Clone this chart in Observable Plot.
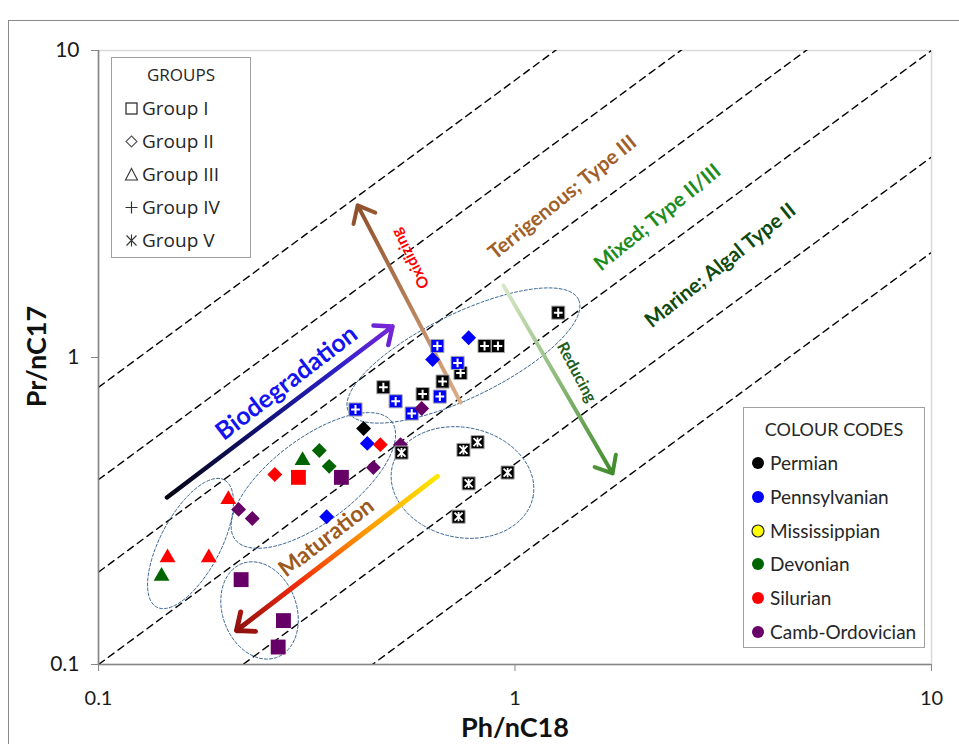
<!DOCTYPE html>
<html>
<head>
<meta charset="utf-8">
<script src="https://cdn.jsdelivr.net/npm/d3@7"></script>
<script src="https://cdn.jsdelivr.net/npm/@observablehq/plot@0.6"></script>
<style>
html,body{margin:0;padding:0;background:#fff;}
#wrap{position:relative;width:959px;height:744px;overflow:hidden;background:#fff;}
#wrap > svg{position:absolute;left:0;top:0;}
.outer{position:absolute;left:8px;top:20px;width:1200px;height:1000px;border-top:1.5px solid #8a8a8a;border-left:1.5px solid #8a8a8a;box-sizing:border-box;}
.axt{position:absolute;font-family:Lato,"Liberation Sans",sans-serif;font-weight:700;font-size:27px;color:#111;white-space:nowrap;line-height:1;}
.box{position:absolute;background:#fff;border:1.5px solid #a0a0a0;box-sizing:border-box;}
.row{position:absolute;left:0;height:26px;line-height:26px;display:flex;align-items:center;white-space:nowrap;color:#262626;}
.ttl{position:absolute;left:0;right:0;text-align:center;height:24px;line-height:24px;color:#262626;}
</style>
</head>
<body>
<div id="wrap"><div class="outer"></div></div>
<script>
// ---------------- data ----------------
const xTicks = [0.1, 1, 10];
const yTicks = [0.1, 1, 10];
const tickLabels = ["0.1", "1", "10"];

const groups = ["Group I", "Group II", "Group III", "Group IV", "Group V"];
const periods = ["Permian", "Pennsylvanian", "Mississippian", "Devonian", "Silurian", "Camb-Ordovician"];
const periodColors = ["#000000", "#0000FF", "#FFFF00", "#006400", "#FF0000", "#660066"];

const sampleGroup = [
  "Group I","Group I","Group I","Group I","Group I",
  "Group III","Group III","Group III","Group III","Group III",
  "Group IV","Group IV","Group IV","Group IV","Group IV","Group IV","Group IV",
  "Group IV","Group IV","Group IV","Group IV","Group IV","Group IV",
  "Group II","Group II","Group II","Group II","Group II","Group II","Group II",
  "Group II","Group II","Group II","Group II","Group II","Group II","Group II",
  "Group V","Group V","Group V","Group V","Group V","Group V"
];
const samplePeriod = [
  "Silurian","Camb-Ordovician","Camb-Ordovician","Camb-Ordovician","Camb-Ordovician",
  "Silurian","Silurian","Silurian","Devonian","Devonian",
  "Permian","Permian","Permian","Permian","Permian","Permian","Permian",
  "Pennsylvanian","Pennsylvanian","Pennsylvanian","Pennsylvanian","Pennsylvanian","Pennsylvanian",
  "Pennsylvanian","Pennsylvanian","Pennsylvanian","Pennsylvanian","Permian","Silurian","Silurian",
  "Devonian","Devonian","Camb-Ordovician","Camb-Ordovician","Camb-Ordovician","Camb-Ordovician","Camb-Ordovician",
  "Permian","Permian","Permian","Permian","Permian","Permian"
];
const phnC18 = [
  0.302, 0.383, 0.220, 0.278, 0.270,
  0.205, 0.1465, 0.184, 0.1417, 0.309,
  1.27, 0.845, 0.91, 0.74, 0.67, 0.60, 0.483,
  0.651, 0.728, 0.66, 0.565, 0.517, 0.414,
  0.774, 0.634, 0.442, 0.353, 0.433, 0.475, 0.265,
  0.339, 0.358, 0.597, 0.531, 0.457, 0.217, 0.234,
  0.534, 0.752, 0.813, 0.96, 0.774, 0.732
];
const prnC17 = [
  0.407, 0.407, 0.189, 0.139, 0.114,
  0.345, 0.223, 0.223, 0.194, 0.462,
  1.40, 1.09, 1.09, 0.89, 0.835, 0.76, 0.80,
  1.09, 0.96, 0.746, 0.657, 0.72, 0.677,
  1.16, 0.985, 0.525, 0.303, 0.587, 0.52, 0.416,
  0.498, 0.442, 0.682, 0.52, 0.438, 0.32, 0.299,
  0.49, 0.50, 0.53, 0.422, 0.389, 0.303
];

// dashed iso-ratio guide lines (Pr/Ph)
const guideRatios = [8, 4, 2, 1, 0.45, 0.22];

// trend arrows
const arrowNames = ["Biodegradation", "Oxidizing", "Reducing", "Maturation"];
const arrowX1 = [0.146, 0.740, 0.938, 0.651];
const arrowY1 = [0.350, 0.714, 1.716, 0.410];
const arrowX2 = [0.508, 0.419, 1.715, 0.2145];
const arrowY2 = [1.262, 3.13, 0.419, 0.129];

// annotation labels
const labelTexts = ["Biodegradation", "Maturation", "Oxidizing", "Reducing", "Terrigenous; Type III", "Mixed; Type II/III", "Marine; Algal Type II"];
const labelX = [0.283, 0.3527, 0.561, 1.405, 1.30, 2.198, 3.113];
const labelY = [0.826, 0.259, 2.101, 0.894, 3.32, 2.858, 1.994];

// group envelopes (dashed ellipses): centre in data units
const ellipseCx = [0.752, 0.328, 0.1663, 0.2436, 0.748];
const ellipseCy = [1.015, 0.3976, 0.2478, 0.150, 0.3916];

// ---------------- layout / styles ----------------
const W = 959, H = 744, mL = 98, mR = 28, mT = 50, mB = 80;
const kx = (W - mL - mR) / 2, ky = (H - mT - mB) / 2; // px per decade
const ellRx = [128, 98, 72, 50, 72];
const ellRy = [42, 42, 30, 37, 55];
const ellAng = [26, 37, 62, 110, -12];

const labelRotate = [-37.5, -37.5, -117, 62, -39, -39, -38.5];
const labelColor = ["#1414F0", "#9C5A1E", "#FF0000", "#1E5E1E", "#A0602A", "#1E8C1E", "#0F4A0F"];
const labelSize = [25, 22.5, 15.5, 16, 20.5, 20.5, 20.5];

const arrowGrad = ["gBio", "gOx", "gRed", "gMat"];
const arrowWidth = [4.5, 4, 4, 5];
const arrowHeadPx = 19;

const colorOf = p => periodColors[periods.indexOf(p)];
const samples = phnC18.map((x, i) => ({x, y: prnC17[i], g: sampleGroup[i], p: samplePeriod[i]}));

// ellipse outlines in data space (ellipse in log space = ellipse on screen)
const ellPts = [];
ellipseCx.forEach((cx, k) => {
  const th = ellAng[k] * Math.PI / 180;
  for (let j = 0; j <= 120; j++) {
    const t = j / 120 * 2 * Math.PI;
    const dx = ellRx[k] * Math.cos(t) * Math.cos(th) - ellRy[k] * Math.sin(t) * Math.sin(th);
    const dy = ellRx[k] * Math.cos(t) * Math.sin(th) + ellRy[k] * Math.sin(t) * Math.cos(th);
    ellPts.push({k, x: Math.pow(10, Math.log10(cx) + dx / kx), y: Math.pow(10, Math.log10(ellipseCy[k]) + dy / ky)});
  }
});

const guidePts = [];
guideRatios.forEach(r => { guidePts.push({r, x: 0.05, y: 0.05 * r}); guidePts.push({r, x: 20, y: 20 * r}); });

// custom symbols
const plusSym = {draw(ctx, size) { const s = Math.sqrt(size / Math.PI); ctx.moveTo(-s, 0); ctx.lineTo(s, 0); ctx.moveTo(0, -s); ctx.lineTo(0, s); }};
const starSym = {draw(ctx, size) { const s = Math.sqrt(size / Math.PI); ctx.moveTo(-s, -s); ctx.lineTo(s, s); ctx.moveTo(-s, s); ctx.lineTo(s, -s); ctx.moveTo(0, -s * 1.15); ctx.lineTo(0, s * 1.15); }};

const byG = g => samples.filter(d => d.g === g);

const marks = [
  Plot.frame({stroke: "#d9d9d9", strokeWidth: 1.5}),
  Plot.line(guidePts, {x: "x", y: "y", z: "r", stroke: "#000", strokeWidth: 1.4, strokeDasharray: "7,5", clip: true}),
  Plot.line(ellPts, {x: "x", y: "y", z: "k", stroke: "#3b6794", strokeWidth: 1, strokeDasharray: "3,2"}),
];
arrowNames.forEach((n, i) => {
  marks.push(Plot.arrow([i], {x1: () => arrowX1[i], y1: () => arrowY1[i], x2: () => arrowX2[i], y2: () => arrowY2[i],
    stroke: `url(#${arrowGrad[i]})`, strokeWidth: arrowWidth[i], headLength: arrowHeadPx * 1.5 / arrowWidth[i], headAngle: 80}));
});
// Group I squares
marks.push(Plot.dot(byG("Group I"), {x: "x", y: "y", symbol: "square", r: 8.4, fill: d => colorOf(d.p)}));
// Group III triangles
marks.push(Plot.dot(byG("Group III"), {x: "x", y: "y", symbol: "triangle", r: 5.9, fill: d => colorOf(d.p)}));
// Group IV plus squares
marks.push(Plot.dot(byG("Group IV"), {x: "x", y: "y", symbol: "square", r: 7.4, fill: d => colorOf(d.p), stroke: "#a8a8a8", strokeWidth: 1}));
marks.push(Plot.dot(byG("Group IV"), {x: "x", y: "y", symbol: plusSym, r: 4.4, stroke: "#fff", strokeWidth: 2}));
// Group II diamonds
marks.push(Plot.dot(byG("Group II"), {x: "x", y: "y", symbol: "diamond2", r: 6.7, fill: d => colorOf(d.p), stroke: null}));
// Group V x squares
marks.push(Plot.dot(byG("Group V"), {x: "x", y: "y", symbol: "square", r: 7.4, fill: d => colorOf(d.p), stroke: "#a8a8a8", strokeWidth: 1}));
marks.push(Plot.dot(byG("Group V"), {x: "x", y: "y", symbol: starSym, r: 4.0, stroke: "#fff", strokeWidth: 1.8}));
// labels
labelTexts.forEach((t, i) => {
  marks.push(Plot.text([i], {x: () => labelX[i], y: () => labelY[i], text: () => t, rotate: labelRotate[i],
    fill: labelColor[i], fontSize: labelSize[i], fontWeight: "bold", fontFamily: "Lato, 'Open Sans', sans-serif"}));
});
// axes
const fmt = d => tickLabels[xTicks.indexOf(d)];
if (Plot.axisX) {
  marks.push(Plot.axisX(xTicks, {tickFormat: fmt, tickSize: 7, tickPadding: 19, fontSize: 20, stroke: "#868686", label: null}));
  marks.push(Plot.axisY(yTicks, {tickFormat: fmt, tickSize: 7, tickPadding: 12, fontSize: 21, stroke: "#868686", label: null}));
}
marks.push(Plot.ruleX(xTicks.slice(0, 1), {stroke: "#868686", strokeWidth: 1.6}));
marks.push(Plot.ruleY(yTicks.slice(0, 1), {stroke: "#868686", strokeWidth: 1.6}));

const chart = Plot.plot({
  width: W, height: H,
  marginLeft: mL, marginRight: mR, marginTop: mT, marginBottom: mB,
  x: {type: "log", domain: [0.1, 10], ticks: xTicks, tickFormat: fmt, label: null, tickSize: 7},
  y: {type: "log", domain: [0.1, 10], ticks: yTicks, tickFormat: fmt, label: null, tickSize: 7},
  color: {type: "identity"},
  style: {fontFamily: "Lato, 'Liberation Sans', sans-serif", color: "#1a1a1a", background: "transparent", overflow: "visible"},
  marks
});

const defs = document.createElementNS("http://www.w3.org/2000/svg", "defs");
defs.innerHTML = `
<linearGradient id="gBio" x1="0" y1="1" x2="1" y2="0">
  <stop offset="0" stop-color="#050510"/><stop offset="0.45" stop-color="#12127a"/><stop offset="0.75" stop-color="#2a20c8"/><stop offset="1" stop-color="#7a26d8"/></linearGradient>
<linearGradient id="gOx" x1="1" y1="1" x2="0" y2="0">
  <stop offset="0" stop-color="#dcae86"/><stop offset="1" stop-color="#8e4e2a"/></linearGradient>
<linearGradient id="gRed" x1="0" y1="0" x2="1" y2="1">
  <stop offset="0" stop-color="#d6e8c6"/><stop offset="1" stop-color="#3f8a2a"/></linearGradient>
<linearGradient id="gMat" x1="1" y1="0" x2="0" y2="1">
  <stop offset="0" stop-color="#ffe800"/><stop offset="0.35" stop-color="#ff9a00"/><stop offset="0.7" stop-color="#f02a0a"/><stop offset="1" stop-color="#8e1010"/></linearGradient>`;
chart.insertBefore(defs, chart.firstChild);

const wrap = document.getElementById("wrap");
wrap.appendChild(chart);

// axis titles
const xt = document.createElement("div");
xt.className = "axt"; xt.textContent = "Ph/nC18";
xt.style.left = "435px"; xt.style.top = "713px"; xt.style.width = "160px"; xt.style.textAlign = "center";
wrap.appendChild(xt);
const yt = document.createElement("div");
yt.className = "axt"; yt.textContent = "Pr/nC17";
yt.style.left = "-45px"; yt.style.top = "343px"; yt.style.width = "160px"; yt.style.textAlign = "center";
yt.style.transform = "rotate(-90deg)";
wrap.appendChild(yt);

// GROUPS legend
const gIcons = [
  '<rect x="2" y="2" width="11" height="11" fill="none" stroke="#222" stroke-width="1.2"/>',
  '<path d="M7.5 2 L13 7.5 L7.5 13 L2 7.5 Z" fill="none" stroke="#555" stroke-width="1.1"/>',
  '<path d="M7.5 1.5 L13.5 13 L1.5 13 Z" fill="none" stroke="#333" stroke-width="1.1"/>',
  '<path d="M1.5 7.5 H13.5 M7.5 1.5 V13.5" fill="none" stroke="#333" stroke-width="1.2"/>',
  '<path d="M2.5 2.5 L12.5 12.5 M2.5 12.5 L12.5 2.5 M7.5 1.5 V13.5" fill="none" stroke="#333" stroke-width="1.1"/>'
];
const gb = document.createElement("div");
gb.className = "box";
Object.assign(gb.style, {left: "111px", top: "57px", width: "140px", height: "201px", fontFamily: "'Open Sans', sans-serif", fontSize: "19px"});
gb.innerHTML = `<div class="ttl" style="top:5px;font-size:17px">GROUPS</div>` + groups.map((g, i) =>
  `<div class="row" style="top:${37 + i * 33}px;left:12px"><svg width="15" height="15" style="margin-right:3px">${gIcons[i]}</svg><span>${g}</span></div>`).join("");
wrap.appendChild(gb);

// COLOUR CODES legend
const cb = document.createElement("div");
cb.className = "box";
Object.assign(cb.style, {left: "743px", top: "407px", width: "182px", height: "241px", fontFamily: "Lato, sans-serif", fontSize: "19px"});
cb.innerHTML = `<div class="ttl" style="top:9px;font-size:18px">COLOUR CODES</div>` + periods.map((p, i) =>
  `<div class="row" style="top:${42 + i * 33.8}px;left:7px"><svg width="14" height="14" style="margin-right:5px"><circle cx="7" cy="7" r="6" fill="${periodColors[i]}" stroke="${p === "Mississippian" ? "#222" : periodColors[i]}" stroke-width="${p === "Mississippian" ? 1.2 : 0}"/></svg><span>${p}</span></div>`).join("");
wrap.appendChild(cb);
</script>
</body>
</html>
